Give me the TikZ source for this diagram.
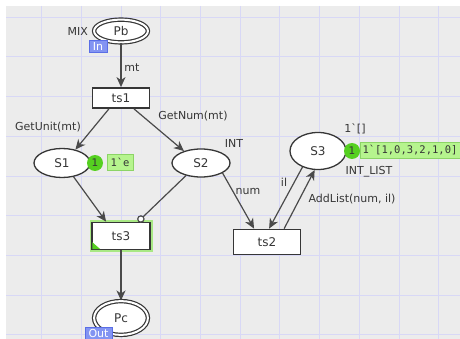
\documentclass[tikz,border=0pt]{standalone}
\usepackage{fontspec}
\newfontfamily\netfont{DejaVu Sans}
\newfontfamily\netmono{DejaVu Sans Mono}
\usetikzlibrary{arrows.meta,shapes.geometric}

\definecolor{canvas}{HTML}{ECECEC}
\definecolor{gridline}{HTML}{D8D8F6}
\definecolor{ink}{HTML}{363636}
\definecolor{edgec}{HTML}{4A4A4A}
\definecolor{token}{HTML}{55D020}
\definecolor{markfill}{HTML}{B6F48E}
\definecolor{markline}{HTML}{8CD466}
\definecolor{portfill}{HTML}{8394F2}
\definecolor{portline}{HTML}{5A6EE6}
\definecolor{glow}{HTML}{A8E884}

\tikzset{
  txt/.style={font=\netfont\fontsize{11}{13}\selectfont, text=ink},
  place/.style={ellipse, draw=ink, line width=1.3pt, fill=white, inner sep=0pt,
    font=\netfont\fontsize{12}{14}\selectfont, text=ink},
  portplace/.style={place, double=white, double distance=2pt, line width=1.2pt},
  trans/.style={rectangle, draw=ink, line width=1.8pt, fill=white, inner sep=0pt,
    font=\netfont\fontsize{12}{14}\selectfont, text=ink},
  arc/.style={draw=edgec, line width=1.2pt, -{Stealth[length=10pt,width=9pt,inset=3pt]}},
  inhib/.style={draw=edgec, line width=1.2pt, -{Circle[length=7.5pt,fill=white]}},
  lbl/.style={txt, inner sep=0pt},
  tok/.style={circle, fill=token, minimum size=16pt, inner sep=0pt,
    font=\netfont\fontsize{10.5}{12}\selectfont, text=ink},
  markbox/.style={rectangle, fill=markfill, draw=markline, line width=0.6pt,
    inner xsep=2.5pt, inner ysep=0pt, minimum height=16pt,
    font=\netmono\fontsize{10.5}{12}\selectfont, text=ink},
  port/.style={rectangle, fill=portfill, draw=portline, line width=0.9pt, text=white,
    inner xsep=1.5pt, inner ysep=0pt, minimum height=11.5pt,
    font=\netfont\fontsize{11}{11}\selectfont},
}

\begin{document}
\begin{tikzpicture}[x=1pt,y=-1pt]
\useasboundingbox (0,0) rectangle (460,339);
% canvas and grid
\fill[white] (0,0) rectangle (460,339);
\fill[canvas] (6,6) rectangle (460,339);
\foreach \i in {0,...,10} \draw[gridline, line width=1pt] ({41.7+39.7*\i},6) -- ({41.7+39.7*\i},339);
\foreach \j in {0,...,8} \draw[gridline, line width=1pt] (6,{17.3+39.7*\j}) -- (460,{17.3+39.7*\j});

% places
\node[portplace, minimum width=53.8pt, minimum height=22.8pt] (Pb) at (121,31) {Pb};
\node[portplace, minimum width=53.8pt, minimum height=33.8pt] (Pc) at (121,318) {Pc};
\node[place, minimum width=56pt, minimum height=29pt] (S1) at (62,163) {S1};
\node[place, minimum width=58pt, minimum height=28pt] (S2) at (201,163) {S2};
\node[place, minimum width=56pt, minimum height=37pt] (S3) at (318,151) {S3};

% transitions
\node[trans, minimum width=57pt, minimum height=20pt] (ts1) at (121,98) {ts1};
\node[trans, minimum width=67pt, minimum height=25pt] (ts2) at (267,242) {ts2};
\node[trans, minimum width=58pt, minimum height=27pt,
      preaction={draw=glow, line width=5pt}] (ts3) at (121,236) {ts3};
\fill[token] ([shift={(1.2,-1.2)}]ts3.south west) -- ++(0,-7) -- ++(8,7) -- cycle;

% arcs
\draw[arc] (Pb) -- (ts1);
\draw[arc] (ts1.222) -- (S1.45);
\draw[arc] (ts1.320) -- (S2.145);
\draw[arc] (S1.-50) -- (ts3.136);
\draw[inhib] (S2.220) -- (ts3.40);
\draw[arc] (S2.-25) -- (ts2.134);
\draw[arc] (S3.226) -- (ts2.81);
\draw[arc] (ts2.38) -- (S3.260);
\draw[arc] (ts3) -- (Pc);

% port tags
\node[port, minimum width=18pt] (inTag) at (98,46.5) {In};
\node[port, minimum width=27pt] (outTag) at (98.5,333.5) {Out};

% inscriptions
\node[lbl, anchor=east] (mixLbl) at (88,31) {MIX};
\node[lbl] (mtLbl) at (132,68) {mt};
\node[lbl] (unitLbl) at (48,127) {GetUnit(mt)};
\node[lbl] (numFnLbl) at (193,116) {GetNum(mt)};
\node[lbl] (intLbl) at (234,143) {INT};
\node[lbl] (initLbl) at (355,129) {1\symbol{96}[]};
\node[lbl] (listLbl) at (369,172) {INT\_LIST};
\node[lbl] (addLbl) at (352,199) {AddList(num, il)};
\node[lbl] (ilLbl) at (284,182) {il};
\node[lbl] (numLbl) at (248,191) {num};

% markings
\node[tok] (tokS1) at (95,163) {1};
\node[markbox, minimum width=26pt] (markS1) at (120,162) {1\symbol{96}e};
\node[tok] (tokS3) at (352,151) {1};
\node[markbox] (markS3) at (410,150) {1\symbol{96}[1,0,3,2,1,0]};
\end{tikzpicture}
\end{document}
